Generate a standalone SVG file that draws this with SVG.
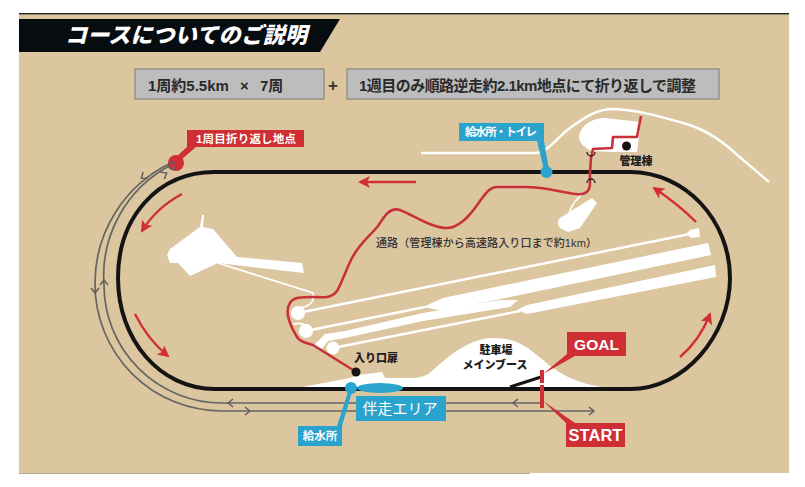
<svg xmlns="http://www.w3.org/2000/svg" xmlns:xlink="http://www.w3.org/1999/xlink" width="805" height="487" viewBox="0 0 805 487">
<style>
text{font-family:"Liberation Sans","Noto Sans CJK JP",sans-serif;}
.lbl{font-size:11px;font-weight:900;fill:#1c1c1c;text-anchor:middle;dominant-baseline:central;}
.wh{fill:#fff;font-weight:700;text-anchor:middle;dominant-baseline:central;}
.info{fill:#bdbdbd;stroke:#85857f;stroke-width:1.2;}
.infot{font-weight:700;font-size:15px;fill:#2a2a2a;dominant-baseline:central;}
.red{fill:#cf2e35;}
.blue{fill:#2aa3cd;}
.gray{fill:none;stroke:#656561;stroke-width:1.7;}
.chev{fill:none;stroke:#5f5f5c;stroke-width:1.5;}
.ra{fill:none;stroke:#d22f33;stroke-width:2.4;marker-end:url(#arrow);}
.thin{fill:none;stroke:#fff;stroke-width:2.4;}
.road{fill:none;stroke:#c9313a;stroke-width:2.6;stroke-linejoin:round;}
</style>
<defs>
<marker id="arrow" markerUnits="userSpaceOnUse" markerWidth="14" markerHeight="12" refX="10" refY="6" orient="auto">
<path d="M0,0 L12,6 L0,12 L3,6Z" fill="#d22f33"/>
</marker>
<path id="ch" d="M-3,-4 L2,0 L-3,4"/>
</defs>
<rect width="805" height="487" fill="#fff"/>
<rect x="19" y="14" width="770" height="459" fill="#dcc6a0"/>
<rect x="19" y="13" width="770" height="1.4" fill="#222"/>
<rect x="19" y="473" width="511" height="1" fill="#b0a894"/>

<g id="title">
<polygon points="19,19 340,19 320,52 19,52" fill="#070c10"/>
<text x="65" y="35" font-size="22" font-weight="900" font-style="italic" fill="#fff" dominant-baseline="central" textLength="242">コースについてのご説明</text>
</g>
<g id="info1">
<rect class="info" x="135" y="69" width="189" height="30"/>
<text class="infot" x="148" y="85" word-spacing="7">1周約5.5km × 7周</text>
</g>
<text x="333" y="85" font-size="17" font-weight="700" fill="#333" text-anchor="middle" dominant-baseline="central">+</text>
<g id="info2">
<rect class="info" x="347" y="69" width="372" height="30"/>
<text class="infot" x="359" y="85" textLength="337" lengthAdjust="spacing">1週目のみ順路逆走約2.1km地点にて折り返しで調整</text>
</g>

<g id="grounds" fill="#fff">
<path class="thin" d="M421,153 H535 C548,153 556,138 570,128 C585,117 597,109 613,109 C640,110 665,118 683,123 C705,129 720,139 735,153 L769,182"/>
<path id="mgmt-area" d="M579,137 C580,127 590,118 605,118 L641,122 L637,152 L613,152 L592,151 C585,148 579,143 579,137Z"/>
<path d="M560,218 L592,198 L597,203 L580,228 L568,232 L560,228 Q556,222 560,218Z"/>
<path class="thin" style="stroke-width:1.6" d="M568,218 C570,206 576,200 583,193"/>
<polygon points="167,255 170,249 200,227 202,215 204,215 203,227 213,229 237,257 302,263 304,273 243,266 218,263 190,276 178,263 170,263"/>
<path class="thin" style="stroke-width:1.8" d="M218,263 L313,293 Q316,305 300,308"/>
<circle cx="298" cy="313" r="7"/>
<path class="thin" d="M298,313 L690,234"/>
<polygon points="687,233 690,230 699,228 700,237 691,238"/>
<circle cx="306" cy="331" r="7"/>
<path class="thin" d="M306,331 L425,307"/>
<path class="thin" style="stroke-width:1.8" d="M293,324 Q303,322 308,328"/>
<polygon points="423,307 443,298 708,243 711,255 443,311"/>
<polygon points="313,346 325,334 345,331 423,313 500,300 518,300 510,307 423,321 345,338 328,341 322,349"/>
<circle cx="333" cy="348" r="6.500"/>
<path class="thin" d="M333,348 L520,311"/>
<polygon points="517,310 527,305 715,265 716,277 527,314"/>
<path id="parking" d="M297,388 L350,378 L358,375 L382,372 L385,378 L413,378 Q425,378 433,370 C450,355 470,338 493,338 C520,338 530,350 543,360 C560,375 580,385 610,388Z"/>
</g>

<g id="connectors">
<path d="M215,172 H630 C685,172 730,220 730,278 C730,335 685,389 630,389 H215 C160,389 118,340 118,278 C118,218 157,172 215,172Z" fill="none" stroke="#141414" stroke-width="4"/>
<path d="M510,387 L541,377" fill="none" stroke="#141414" stroke-width="3"/>
<path class="gray" d="M541,403 H222 A118,118 0 0 1 104,285 A125,125 0 0 1 171,165"/>
<path class="gray" d="M593,411 H222 A127,127 0 0 1 95,284 A133,133 0 0 1 171,163"/>
<g class="chev">
<use xlink:href="#ch" href="#ch" transform="translate(143,177) rotate(145)"/>
<use xlink:href="#ch" href="#ch" transform="translate(165,174) rotate(-30)"/>
<use xlink:href="#ch" href="#ch" transform="translate(95,291) rotate(90)"/>
<use xlink:href="#ch" href="#ch" transform="translate(104,282) rotate(-90)"/>
<use xlink:href="#ch" href="#ch" transform="translate(230,403) rotate(180)"/>
<use xlink:href="#ch" href="#ch" transform="translate(248,411)"/>
<use xlink:href="#ch" href="#ch" transform="translate(515,403) rotate(180)"/>
<use xlink:href="#ch" href="#ch" transform="translate(592,411)"/>
</g>
<path class="road" d="M641,116 L637,137 H613 L612,148 L593,149 L591,158 L590,173 V183 C590,192 585,195 576,194 C560,192 545,187 525,187 L497,187 C490,187 486,193 480,201 C470,216 458,228 447,228 C432,228 415,216 400,210 C390,207 385,215 378,226 C368,238 360,243 352,258 C345,272 343,280 337,291 C331,299 322,297 313,297 C302,297 293,297 290,303 C285,310 288,322 297,337 C301,343 307,343 313,345 L353,370"/>
<path d="M587,152 a4,4 0 0 0 8,0 M587,183 a4,4 0 0 1 8,0" fill="none" stroke="#222" stroke-width="1.3"/>
<path class="ra" d="M416,182 H360"/>
<path class="ra" d="M182,194 Q156,208 142,231"/>
<path class="ra" d="M135,314 Q148,340 168,356"/>
<path class="ra" d="M680,357 Q700,340 710,314"/>
<path class="ra" d="M696,222 Q678,204 654,188"/>
</g>

<g id="turnaround">
<polygon class="red" points="187,147 196,147 181,160 176,157"/>
<circle class="red" cx="176" cy="163" r="8"/>
<circle cx="172" cy="165.500" r="3.400" fill="none" stroke="#5f5f5c" stroke-width="1.500"/>
<rect class="red" x="187" y="130" width="117" height="17"/>
<text class="wh" x="246" y="138.500" font-size="11.500" textLength="100">1周目折り返し地点</text>
</g>
<g id="water-toilet">
<polygon class="blue" points="537,141 544,141 549,170 544,170"/>
<circle class="blue" cx="546.500" cy="172" r="6"/>
<rect class="blue" x="459" y="123" width="85" height="18"/>
<text class="wh" x="501" y="132" font-size="11.500" textLength="72">給水所・トイレ</text>
</g>
<g id="mgmt">
<circle cx="626.500" cy="146" r="4.500" fill="#141414"/>
<text class="lbl" x="636" y="161">管理棟</text>
</g>
<text id="road-label" x="376" y="243" font-size="11" font-weight="500" fill="#333" dominant-baseline="central" textLength="221">通路（管理棟から高速路入り口まで約1km）</text>
<g id="entrance">
<circle cx="356" cy="372" r="4.500" fill="#141414"/>
<text class="lbl" x="376" y="358">入り口扉</text>
</g>
<g id="parking-label">
<text class="lbl" x="496" y="350">駐車場</text>
<text class="lbl" x="495" y="365">メインブース</text>
</g>
<g id="pacer">
<ellipse class="blue" cx="380" cy="388" rx="23" ry="5"/>
<rect class="blue" x="356" y="396" width="90" height="25"/>
<text x="400" y="408" font-size="15" fill="#fff" text-anchor="middle" dominant-baseline="central">伴走エリア</text>
</g>
<g id="water">
<polygon class="blue" points="348,392 352,392 342,426 337,426"/>
<circle class="blue" cx="351" cy="388" r="6"/>
<rect class="blue" x="298" y="426" width="44" height="20"/>
<text class="wh" x="320" y="436" font-size="11.500">給水所</text>
</g>
<g id="goal">
<polygon class="red" points="567,354 575,356 543,374"/>
<rect class="red" x="567" y="332" width="59" height="24"/>
<rect class="red" x="540" y="370" width="4" height="13"/>
<text x="596.500" y="344" font-size="15.500" font-weight="700" fill="#fff" text-anchor="middle" dominant-baseline="central">GOAL</text>
</g>
<g id="start">
<polygon class="red" points="543,401 566,423 575,423"/>
<rect class="red" x="566" y="423" width="59" height="24"/>
<rect class="red" x="540" y="385" width="4" height="23"/>
<text x="595.500" y="435" font-size="16.500" font-weight="700" fill="#fff" text-anchor="middle" dominant-baseline="central">START</text>
</g>
</svg>
